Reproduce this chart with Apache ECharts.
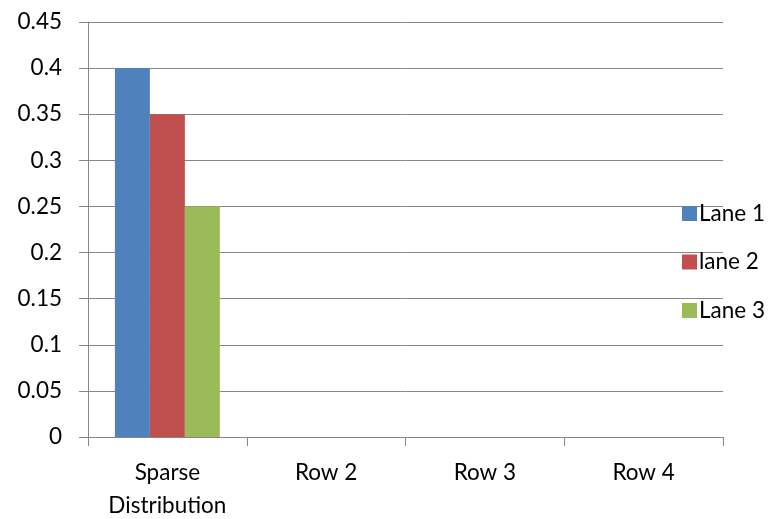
<!DOCTYPE html>
<html>
<head>
<meta charset="utf-8">
<script src="https://cdn.jsdelivr.net/npm/echarts@6/dist/echarts.min.js"></script>
<style>html,body{margin:0;padding:0;background:#fff}#c{width:773px;height:519px}</style>
</head>
<body>
<div id="c"></div>
<script>
const categories = ['Sparse\nDistribution', 'Row 2', 'Row 3', 'Row 4'];
const seriesNames = ['Lane 1', 'lane 2', 'Lane 3'];
const lane1 = [0.4, null, null, null];
const lane2 = [0.35, null, null, null];
const lane3 = [0.25, null, null, null];
const colors = ['#4F81BD', '#C0504D', '#9BBB59'];
const yMin = 0, yMax = 0.45, yInterval = 0.05;

const FONT = 'Lato';
const FS = 22.5;
const chart = echarts.init(document.getElementById('c'), null, {renderer: 'canvas'});
const values = [lane1, lane2, lane3];
chart.setOption({
  animation: false,
  backgroundColor: '#ffffff',
  textStyle: {fontFamily: FONT},
  grid: {left: 88, right: 50, top: 22, bottom: 82, containLabel: false, outerBoundsMode: 'none'},
  legend: {
    orient: 'vertical',
    left: 677,
    top: 197,
    itemWidth: 15,
    itemHeight: 15,
    itemGap: 25.5,
    icon: 'rect',
    textStyle: {fontFamily: FONT, fontSize: FS, color: '#000', padding: [0, 0, 0, -3]},
    data: seriesNames
  },
  xAxis: {
    type: 'category',
    data: categories,
    axisLine: {lineStyle: {color: '#868686', width: 1}},
    axisTick: {show: true, length: 9, lineStyle: {color: '#868686'}},
    axisLabel: {fontFamily: FONT, fontSize: FS, color: '#000', margin: 19, lineHeight: 33, interval: 0}
  },
  yAxis: {
    type: 'value',
    min: yMin, max: yMax, interval: yInterval,
    axisLine: {show: true, lineStyle: {color: '#868686', width: 1}},
    axisTick: {show: true, length: 9, lineStyle: {color: '#868686'}},
    splitLine: {show: true, lineStyle: {color: '#868686', width: 1}},
    axisLabel: {fontFamily: FONT, fontSize: FS, color: '#000', margin: 26,
      formatter: v => String(parseFloat(v.toFixed(2)))}
  },
  series: seriesNames.map((n, i) => ({
    name: n,
    type: 'bar',
    data: values[i],
    itemStyle: {color: colors[i]},
    barGap: '0%',
    barCategoryGap: '33.9%'
  }))
});
</script>
</body>
</html>
